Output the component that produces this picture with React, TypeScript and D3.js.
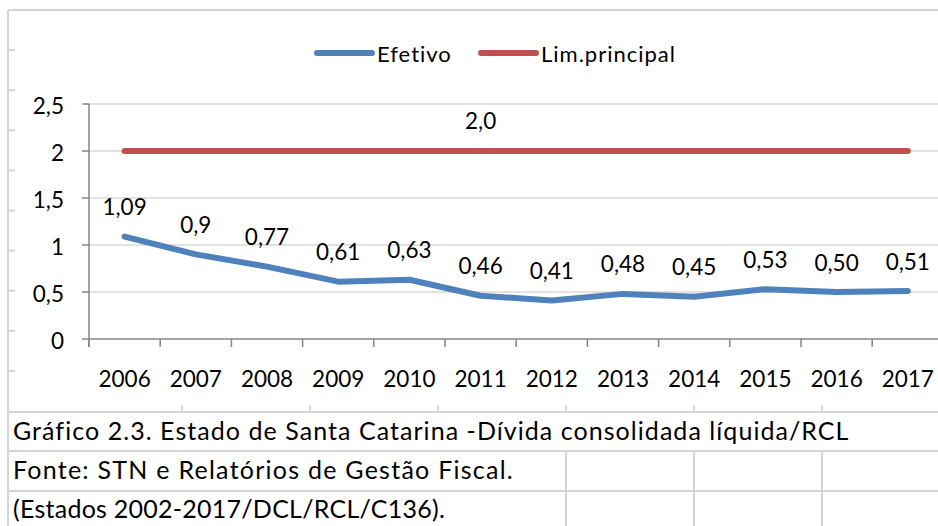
import * as d3 from 'd3';
import { useEffect, useRef } from 'react';

const years = ['2006', '2007', '2008', '2009', '2010', '2011', '2012', '2013', '2014', '2015', '2016', '2017'];
const efetivo = [1.09, 0.9, 0.77, 0.61, 0.63, 0.46, 0.41, 0.48, 0.45, 0.53, 0.5, 0.51];
const efetivoLabels = ['1,09', '0,9', '0,77', '0,61', '0,63', '0,46', '0,41', '0,48', '0,45', '0,53', '0,50', '0,51'];
const limPrincipal = [2, 2, 2, 2, 2, 2, 2, 2, 2, 2, 2, 2];
const limLabel = { year: '2011', text: '2,0' };
const yTicks = [0, 0.5, 1, 1.5, 2, 2.5];
const yTickLabels = ['0', '0,5', '1', '1,5', '2', '2,5'];
const seriesNames = ['Efetivo', 'Lim.principal'];
const notes = [
  'Gráfico 2.3. Estado de Santa Catarina -Dívida consolidada líquida/RCL',
  'Fonte: STN e Relatórios de Gestão Fiscal.',
  '(Estados 2002-2017/DCL/RCL/C136).',
];
const noteSpacing = [1.05, 1.25, 0.25];

const FONT = 'Lato, Carlito, sans-serif';
const BLUE = '#4f81bd';
const RED = '#c0504d';
const GRID = '#d9d9d9';
const AXIS = '#868686';

export default function App() {
  const ref = useRef<SVGSVGElement>(null);

  useEffect(() => {
    const svg = d3.select(ref.current);
    svg.selectAll('*').remove();

    // spreadsheet cells behind the chart
    const cells = svg.append('g').attr('stroke', '#d4d4d4').attr('stroke-width', 2);
    const rowLines = d3.range(0, 13).map((i) => 10 + i * 40.1);
    cells
      .selectAll('line.row')
      .data(rowLines.filter((r) => r < 400))
      .enter()
      .append('line')
      .attr('x1', 8)
      .attr('x2', 15)
      .attr('y1', (d) => d)
      .attr('y2', (d) => d);
    cells.append('line').attr('x1', 8).attr('x2', 938).attr('y1', 10).attr('y2', 10);
    cells.append('line').attr('x1', 8).attr('x2', 8).attr('y1', 10).attr('y2', 526);
    [412, 451, 491].forEach((y) => {
      cells.append('line').attr('x1', 8).attr('x2', 938).attr('y1', y).attr('y2', y);
    });
    [182, 310, 438, 566, 694, 822].forEach((x) => {
      cells.append('line').attr('x1', x).attr('x2', x).attr('y1', 405).attr('y2', 412);
    });
    [566, 694, 822].forEach((x) => {
      cells.append('line').attr('x1', x).attr('x2', x).attr('y1', 451).attr('y2', 526);
    });

    svg
      .append('g')
      .selectAll('text')
      .data(notes)
      .enter()
      .append('text')
      .attr('x', 13)
      .attr('y', (_, i) => 440 + i * 39.2)
      .attr('font-family', FONT)
      .attr('font-size', 25)
      .attr('letter-spacing', (_, i) => noteSpacing[i])
      .attr('fill', '#000')
      .text((d) => d);

    const xScale = d3.scaleBand().domain(years).range([89, 89 + 12 * 71.2]);
    const yScale = d3.scaleLinear().domain([0, 2.5]).range([339, 104]);
    const cx = (d: string) => xScale(d)! + xScale.bandwidth() / 2;

    // gridlines
    svg
      .append('g')
      .selectAll('line')
      .data(yTicks.filter((t) => t > 0))
      .enter()
      .append('line')
      .attr('x1', 89)
      .attr('x2', 943)
      .attr('y1', (d) => yScale(d))
      .attr('y2', (d) => yScale(d))
      .attr('stroke', GRID)
      .attr('stroke-width', 1.5);

    // y axis
    const yAxis = svg.append('g').attr('stroke', AXIS).attr('stroke-width', 1.5);
    yAxis.append('line').attr('x1', 89).attr('x2', 89).attr('y1', yScale(2.5)).attr('y2', 347);
    yAxis
      .selectAll('line.tick')
      .data(yTicks)
      .enter()
      .append('line')
      .attr('x1', 82)
      .attr('x2', 89)
      .attr('y1', (d) => yScale(d))
      .attr('y2', (d) => yScale(d));
    svg
      .append('g')
      .selectAll('text')
      .data(yTicks)
      .enter()
      .append('text')
      .attr('x', 64)
      .attr('y', (d) => yScale(d) + 1)
      .attr('text-anchor', 'end')
      .attr('dominant-baseline', 'central')
      .attr('font-family', FONT)
      .attr('font-size', 22.5)
      .text((_, i) => yTickLabels[i]);

    // x axis
    const xAxis = svg.append('g').attr('stroke', AXIS).attr('stroke-width', 1.5);
    xAxis.append('line').attr('x1', 89).attr('x2', 943).attr('y1', 339).attr('y2', 339);
    xAxis
      .selectAll('line.tick')
      .data(years.concat(['end']))
      .enter()
      .append('line')
      .attr('x1', (d) => (d === 'end' ? 89 + 12 * 71.2 : xScale(d)!))
      .attr('x2', (d) => (d === 'end' ? 89 + 12 * 71.2 : xScale(d)!))
      .attr('y1', 339)
      .attr('y2', 347);
    svg
      .append('g')
      .selectAll('text')
      .data(years)
      .enter()
      .append('text')
      .attr('x', (d) => cx(d))
      .attr('y', 378)
      .attr('text-anchor', 'middle')
      .attr('dominant-baseline', 'central')
      .attr('font-family', FONT)
      .attr('font-size', 22.5)
      .text((d) => d);

    // series
    const line = d3
      .line<number>()
      .x((_, i) => cx(years[i]))
      .y((d) => yScale(d));

    svg
      .append('path')
      .datum(limPrincipal)
      .attr('d', line)
      .attr('fill', 'none')
      .attr('stroke', RED)
      .attr('stroke-width', 6)
      .attr('stroke-linecap', 'round')
      .attr('stroke-linejoin', 'round');

    svg
      .append('path')
      .datum(efetivo)
      .attr('d', line)
      .attr('fill', 'none')
      .attr('stroke', BLUE)
      .attr('stroke-width', 6)
      .attr('stroke-linecap', 'round')
      .attr('stroke-linejoin', 'round');

    // data labels
    svg
      .append('g')
      .selectAll('text')
      .data(efetivo)
      .enter()
      .append('text')
      .attr('x', (_, i) => cx(years[i]))
      .attr('y', (d) => yScale(d) - 30)
      .attr('text-anchor', 'middle')
      .attr('dominant-baseline', 'central')
      .attr('font-family', FONT)
      .attr('font-size', 22.5)
      .text((_, i) => efetivoLabels[i]);

    const li = years.indexOf(limLabel.year);
    svg
      .append('text')
      .attr('x', cx(limLabel.year))
      .attr('y', yScale(limPrincipal[li]) - 31)
      .attr('text-anchor', 'middle')
      .attr('dominant-baseline', 'central')
      .attr('font-family', FONT)
      .attr('font-size', 22.5)
      .text(limLabel.text);

    // legend
    const legend = [
      { name: seriesNames[0], color: BLUE, x: 317 },
      { name: seriesNames[1], color: RED, x: 481 },
    ];
    const lg = svg.append('g');
    legend.forEach((l) => {
      lg.append('line')
        .attr('x1', l.x)
        .attr('x2', l.x + 55)
        .attr('y1', 53)
        .attr('y2', 53)
        .attr('stroke', l.color)
        .attr('stroke-width', 6)
        .attr('stroke-linecap', 'round');
      lg.append('text')
        .attr('x', l.x + 60)
        .attr('y', 53)
        .attr('dominant-baseline', 'central')
        .attr('font-family', FONT)
        .attr('font-size', 22)
        .attr('letter-spacing', 1)
        .text(l.name);
    });
  }, []);

  return (
    <svg
      ref={ref}
      width={938}
      height={526}
      style={{ position: 'absolute', left: 0, top: 0, background: '#fff', display: 'block' }}
    />
  );
}
